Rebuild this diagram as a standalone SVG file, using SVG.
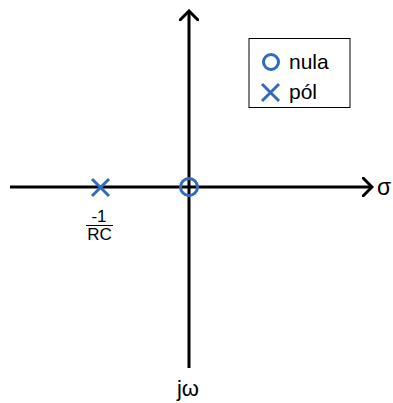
<svg xmlns="http://www.w3.org/2000/svg" width="393" height="403" viewBox="0 0 393 403">
<style>
.ax{stroke:#000;stroke-width:3;fill:none}
.mk{stroke:#2f6cbd;stroke-width:3;fill:none}
.t{font-family:"Liberation Sans",Arial,sans-serif;fill:#000}
</style>
<defs>
<marker id="arr" viewBox="0 0 12 20" refX="10" refY="10" markerWidth="12" markerHeight="20" markerUnits="userSpaceOnUse" orient="auto">
<path d="M1,1 L10,10 L1,19" stroke="#000" stroke-width="3" fill="none" stroke-linecap="square"/>
</marker>
</defs>
<g id="connectors">
<line class="ax" x1="10" y1="187" x2="372" y2="187" marker-end="url(#arr)"/>
<line class="ax" x1="189" y1="368" x2="189" y2="11" marker-end="url(#arr)"/>
</g>
<g id="zero">
<circle class="mk" cx="189" cy="187" r="8.5"/>
</g>
<g id="pole">
<path class="mk" d="M92,179 L109,196 M109,179 L92,196"/>
<text class="t" x="99" y="222" font-size="17" text-anchor="middle">-1</text>
<line x1="86" y1="225.5" x2="113" y2="225.5" stroke="#000" stroke-width="1"/>
<text class="t" x="99.5" y="240" font-size="17" text-anchor="middle">RC</text>
</g>
<g id="sigma">
<text class="t" x="377" y="195" font-size="23">σ</text>
</g>
<g id="jw">
<text class="t" x="188" y="396" font-size="22" text-anchor="middle">jω</text>
</g>
<g id="legend">
<rect x="249" y="38.5" width="101" height="69" fill="#fff" stroke="#000" stroke-width="1"/>
<circle class="mk" cx="271" cy="62" r="7.5"/>
<text class="t" x="289" y="69" font-size="21">nula</text>
<path class="mk" d="M262,84 L279,101 M279,84 L262,101"/>
<text class="t" x="289" y="99" font-size="21">pól</text>
</g>
</svg>
